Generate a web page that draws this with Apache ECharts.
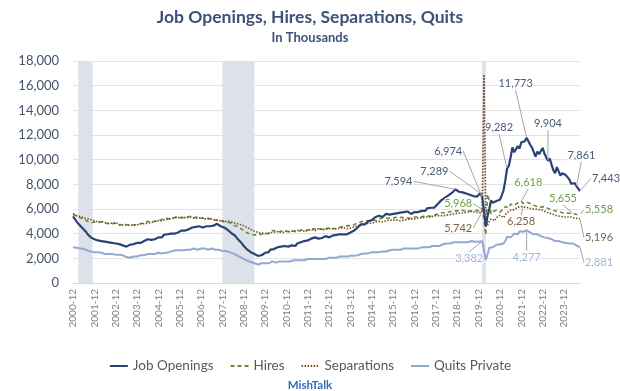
<!DOCTYPE html>
<html><head><meta charset="utf-8">
<script src="https://cdn.jsdelivr.net/npm/echarts@6/dist/echarts.min.js"></script>
<style>html,body{margin:0;padding:0;background:#fff}#c{width:620px;height:391px}</style>
</head><body><div id="c"></div>
<script>
// ---- categories: monthly, 2000-12 .. 2024-09 ----
const firstMonth = '2000-12';
const lastMonth = '2024-09';
const categories = [];
(function(){
  let y = +firstMonth.slice(0,4), m = +firstMonth.slice(5,7);
  while (true) {
    const s = y + '-' + String(m).padStart(2,'0');
    categories.push(s);
    if (s === lastMonth) break;
    m++; if (m > 12) { m = 1; y++; }
  }
})();
const yTicks = [0,2000,4000,6000,8000,10000,12000,14000,16000,18000];

// ---- series values (thousands) ----
const jobOpenings = [
 5400,
 5250,5000,4800,4650,4500,4350,4200,4000,3850,3700,3600,3550, // 2001
 3500,3450,3550,3400,3450,3350,3400,3300,3350,3250,3300,3200, // 2002
 3250,3150,3100,3050,3000,2950,3000,3100,3050,3150,3200,3250, // 2003
 3300,3250,3350,3400,3500,3550,3450,3500,3600,3550,3650,3700, // 2004
 3750,3700,3900,3850,3950,3900,4000,4100,4000,4150,4100,4200, // 2005
 4250,4300,4250,4400,4350,4450,4500,4400,4550,4450,4600,4550, // 2006
 4500,4650,4600,4750,4600,4750,4650,4700,4800,4700,4600,4550, // 2007
 4500,4350,4300,4200,4050,3950,3850,3700,3500,3350,3200,3000, // 2008
 2850,2700,2600,2500,2450,2350,2250,2200,2300,2250,2350,2450, // 2009
 2550,2500,2700,2800,2750,2850,2900,2800,2950,2900,3000,3050, // 2010
 2950,3100,3050,3150,3000,3200,3150,3300,3250,3400,3300,3450, // 2011
 3500,3600,3550,3700,3650,3600,3750,3650,3700,3800,3750,3700, // 2012
 3750,3850,3800,3900,3850,3950,3850,3950,4000,3950,4050,4100, // 2013
 4150,4250,4300,4500,4550,4750,4850,4750,4900,5000,5050,5100, // 2014
 5200,5350,5250,5450,5550,5350,5500,5600,5450,5550,5450,5600, // 2015
 5700,5650,5800,5700,5600,5750,5650,5800,5700,5600,5650,5750, // 2016
 5800,5750,5900,5850,6000,5850,6050,6000,6100,6050,6100,6200, // 2017
 6400,6500,6700,6750,6900,7050,7100,7150,7300,7350,7594,7450, // 2018
 7400,7250,7350,7300,7250,7200,7150,7200,7050,7100,7000,6950, // 2019
 7289,6974,5900,4600,5400,6000,6700,6500,6600,6650,6600,6750, // 2020
 7100,7500,8300,9282,9500,10200,11000,10600,10700,11100,10900,11400, // 2021
 11550,11500,11773,11650,11200,11000,11150,10250,10650,10450,10700,10950, // 2022
 10500,10200,9904,10100,9600,9150,8900,9400,9300,8700,8900,9000, // 2023
 8750,8800,8400,8050,8200,8100,7861,7700,7443 // 2024
];
const hires = [
 5650,
 5700,5400,5500,5300,5200,5200,5100,5000,5000,4900,4950,4950,
 5000,4900,4850,4950,4900,4850,4900,4800,4850,4800,4750,4850,
 4750,4700,4650,4700,4650,4750,4700,4650,4750,4700,4800,4750,
 4850,4800,4950,4900,4950,5000,4900,4950,5050,5000,5100,5050,
 5100,5150,5200,5250,5150,5200,5300,5250,5200,5350,5300,5300,
 5350,5300,5400,5350,5300,5400,5350,5300,5250,5350,5300,5250,
 5300,5250,5200,5250,5200,5150,5200,5100,5150,5100,5050,5000,
 5000,4900,4850,4900,4800,4700,4650,4600,4500,4450,4350,4250,
 4150,4050,4000,3950,4000,3900,3950,3900,4000,3950,4000,4050,
 4050,4000,4200,4150,4250,4100,4150,4100,4200,4150,4250,4200,
 4150,4100,4250,4200,4150,4250,4200,4250,4300,4200,4250,4300,
 4350,4300,4400,4250,4350,4300,4400,4350,4300,4400,4450,4350,
 4450,4500,4400,4550,4500,4450,4550,4500,4600,4550,4650,4600,
 4650,4750,4800,4850,4900,4950,5000,4950,5050,5100,5050,5150,
 5100,5150,5050,5200,5250,5150,5300,5200,5250,5300,5250,5350,
 5300,5250,5350,5200,5300,5250,5300,5350,5250,5300,5350,5300,
 5350,5400,5350,5450,5400,5500,5450,5500,5400,5550,5500,5600,
 5600,5650,5700,5750,5700,5800,5750,5850,5800,5900,5850,5900,
 5850,5750,5900,5850,5800,5900,5850,5900,5800,5850,5900,5850,
 5800,5968,5200,3900,7200,6700,5600,5800,5700,5900,5800,5750,
 5900,6000,6200,6250,6100,6400,6500,6300,6450,6500,6550,6618,
 6450,6500,6550,6400,6450,6350,6300,6250,6200,6300,6150,6250,
 6200,6100,6050,6000,5950,5900,5850,5900,5800,5750,5700,5750,
 5700,5750,5650,5700,5655,5600,5550,5600,5558
];
const separations = [
 5550,
 5600,5450,5550,5400,5350,5300,5250,5200,5300,5150,5100,5050,
 5000,4950,4900,5000,4950,4900,4950,4850,4900,4850,4800,4900,
 4800,4750,4800,4700,4750,4700,4650,4700,4650,4700,4750,4700,
 4750,4800,4850,4800,4900,4850,4950,4900,4950,5000,4950,5050,
 5000,5050,5100,5150,5100,5200,5150,5250,5200,5300,5250,5300,
 5250,5300,5350,5300,5250,5350,5300,5250,5300,5250,5350,5300,
 5250,5200,5250,5200,5150,5200,5150,5100,5150,5050,5100,5050,
 5050,5000,4950,5000,4950,4900,4850,4800,4850,4750,4700,4650,
 4600,4500,4450,4350,4300,4200,4150,4100,4100,4050,4100,4000,
 4100,4050,4150,4100,4200,4150,4100,4150,4200,4100,4150,4200,
 4200,4150,4250,4200,4150,4250,4200,4300,4250,4200,4300,4250,
 4300,4350,4300,4250,4350,4400,4300,4350,4400,4350,4300,4400,
 4350,4400,4450,4400,4350,4450,4400,4500,4450,4400,4500,4450,
 4500,4550,4600,4650,4700,4750,4800,4750,4800,4850,4900,4850,
 4900,4950,4950,5000,5050,4950,5100,5050,5000,5100,5150,5100,
 5150,5100,5200,5050,5150,5100,5200,5150,5100,5200,5150,5200,
 5200,5250,5200,5300,5250,5350,5300,5350,5300,5400,5350,5450,
 5400,5450,5500,5450,5550,5500,5600,5550,5650,5600,5700,5650,
 5700,5650,5750,5700,5650,5750,5700,5800,5700,5750,5800,5700,
 5750,5742,16900,6200,4700,5000,5200,5100,5050,5300,5450,5500,
 5400,5300,5500,5700,5800,5900,6000,5950,6100,6150,6050,6200,
 6258,6150,6200,6100,6050,6000,5950,6000,5900,5950,5850,5900,
 5800,5750,5700,5650,5600,5550,5500,5450,5500,5400,5450,5350,
 5400,5350,5300,5350,5300,5250,5300,5250,5196
];
const quitsPrivate = [
 2900,
 2950,2850,2900,2800,2750,2750,2700,2650,2600,2550,2500,2500,
 2450,2500,2400,2450,2400,2350,2400,2350,2300,2350,2300,2300,
 2250,2300,2200,2250,2150,2100,2100,2050,2100,2150,2200,2150,
 2200,2250,2300,2250,2300,2350,2300,2350,2400,2350,2400,2450,
 2450,2400,2500,2450,2550,2500,2550,2600,2550,2650,2600,2650,
 2700,2650,2750,2700,2750,2700,2750,2800,2750,2700,2750,2800,
 2750,2800,2750,2700,2750,2800,2750,2700,2650,2700,2650,2600,
 2650,2600,2550,2500,2450,2400,2350,2250,2200,2100,2000,1950,
 1850,1800,1750,1700,1650,1600,1550,1500,1550,1600,1550,1600,
 1650,1600,1700,1750,1700,1650,1700,1750,1700,1750,1800,1750,
 1800,1750,1800,1850,1800,1850,1800,1850,1900,1850,1900,1950,
 1900,1950,1900,1950,2000,1950,1900,1950,2000,1950,2000,2050,
 2000,2050,2100,2050,2100,2150,2100,2150,2100,2150,2200,2200,
 2250,2200,2300,2250,2300,2350,2300,2400,2350,2400,2450,2500,
 2450,2500,2550,2500,2600,2550,2600,2550,2600,2650,2600,2700,
 2650,2700,2750,2700,2750,2800,2750,2800,2850,2800,2750,2800,
 2850,2800,2850,2900,2850,2900,2950,2900,2950,3000,2950,3000,
 3050,3000,3100,3150,3100,3200,3250,3200,3250,3300,3250,3300,
 3250,3300,3350,3300,3350,3300,3350,3400,3300,3350,3400,3350,
 3300,3382,2700,1900,2300,2850,2950,2900,3050,3100,3050,3150,
 3250,3200,3400,3750,3600,3700,3800,4000,4150,3950,4200,4100,
 4150,4100,4277,4200,4100,4050,3950,3900,3950,3850,3800,3850,
 3700,3650,3650,3600,3550,3500,3400,3450,3400,3350,3300,3250,
 3250,3250,3200,3150,3200,3100,3050,3000,2881
];

// recession periods (start, end)
const recessions = [['2001-03','2001-11'],['2007-12','2009-06'],['2020-02','2020-04']];

// annotated months per series
const joLabelMonths  = ['2018-11','2020-01','2020-02','2021-04','2022-03','2023-03','2024-07','2024-09'];
const hiLabelMonths  = ['2020-02','2021-12','2024-05','2024-09'];
const seLabelMonths  = ['2020-02','2022-01','2024-09'];
const quLabelMonths  = ['2020-02','2022-03','2024-09'];

// ---- styles / layout (label offsets in px, same order as months) ----
const joOff = [[-57,-8],[-46,-22],[-34,-46],[-8,-41],[-11,-54],[0,-37],[5,-31],[26,-13]];
const hiOff = [[-24,-6],[7,-19],[-10,-15],[19,-5]];
const seOff = [[-24,16],[-2,16],[19,19]];
const quOff = [[-13,17],[0,27],[19,15]];

const C = {jo:'#2b4374', hi:'#72883c', se:'#7a5028', qu:'#93a9d1',
           joL:'#4a5a78', hiL:'#6f9d4c', seL:'#7a6442', quL:'#9fb3d8'};
const FONT = 'Lato, "Open Sans", sans-serif';
const fmt = v => v.toLocaleString('en-US');

function annot(name, src, months, offs, color) {
  return {
    type:'scatter', name: name, z: 10, silent: true,
    symbol:'circle', symbolSize: 1, itemStyle:{color:'rgba(0,0,0,0)'},
    data: months.map(m => [m, src[categories.indexOf(m)]]),
    label:{show:true, position:'inside', formatter: p => fmt(p.value[1]),
           color: color, fontSize: 11, fontFamily: FONT, opacity:1,
           textBorderColor:'#ffffff', textBorderWidth:2},
    labelLine:{show:true, lineStyle:{color:'#a6a6a6', width:1}},
    labelLayout: p => ({dx: offs[p.dataIndex][0], dy: offs[p.dataIndex][1]})
  };
}

const chart = echarts.init(document.getElementById('c'), null, {renderer:'canvas'});
chart.setOption({
  animation:false,
  backgroundColor:'#fff',
  textStyle:{fontFamily: FONT},
  title:{
    text:'Job Openings, Hires, Separations, Quits', subtext:'In Thousands',
    left:'center', top:3, itemGap:5,
    textStyle:{fontSize:17.5, fontWeight:'bold', color:'#3d5279', fontFamily:FONT},
    subtextStyle:{fontSize:13, fontWeight:'bold', color:'#3d5279', fontFamily:FONT}
  },
  graphic:[{type:'text', left:'center', top:379,
    style:{text:'MishTalk', fontSize:11.5, fontWeight:'bold', fill:'#2e6fb0', fontFamily:FONT}}],
  legend:{
    top:354, left:'center', itemGap:16, itemWidth:18, itemHeight:8,
    data:['Job Openings','Hires','Separations','Quits Private'],
    itemStyle:{opacity:0},
    textStyle:{fontSize:13.5, color:'#595959', fontFamily:FONT}
  },
  grid:{left:73, right:40, top:61, bottom:108},
  xAxis:{
    type:'category', data:categories, boundaryGap:false,
    axisLine:{lineStyle:{color:'#d9d9d9'}}, axisTick:{show:false},
    axisLabel:{rotate:90, interval:11, fontSize:10, color:'#808080', margin:6, fontFamily:FONT}
  },
  yAxis:{
    type:'value', min:yTicks[0], max:yTicks[yTicks.length-1], interval:2000,
    axisLine:{show:false}, axisTick:{show:false},
    splitLine:{lineStyle:{color:'#e3e3e3'}},
    axisLabel:{formatter: v => fmt(v), fontSize:13, color:'#44546a', margin:14, fontFamily:FONT}
  },
  series:[
    {type:'line', name:'_rec', data:[], z:1, silent:true,
     markArea:{silent:true, itemStyle:{color:'#dde1ea'},
       data: recessions.map(r => [{xAxis:r[0]},{xAxis:r[1]}])}},
    {type:'line', name:'Job Openings', data:jobOpenings, showSymbol:false, symbol:'none', z:5,
     lineStyle:{color:C.jo, width:2.2}, itemStyle:{color:C.jo}},
    {type:'line', name:'Hires', data:hires, showSymbol:false, symbol:'none', z:4,
     lineStyle:{color:C.hi, width:1.6, type:[4,3]}, itemStyle:{color:C.hi}},
    {type:'line', name:'Separations', data:separations, showSymbol:false, symbol:'none', z:4,
     lineStyle:{color:C.se, width:1.6, type:[1.5,1.5]}, itemStyle:{color:C.se}},
    {type:'line', name:'Quits Private', data:quitsPrivate, showSymbol:false, symbol:'none', z:3,
     lineStyle:{color:C.qu, width:2}, itemStyle:{color:C.qu}},
    annot('jo-labels', jobOpenings, joLabelMonths, joOff, C.joL),
    annot('hi-labels', hires, hiLabelMonths, hiOff, C.hiL),
    annot('se-labels', separations, seLabelMonths, seOff, C.seL),
    annot('qu-labels', quitsPrivate, quLabelMonths, quOff, C.quL)
  ]
});
</script></body></html>
